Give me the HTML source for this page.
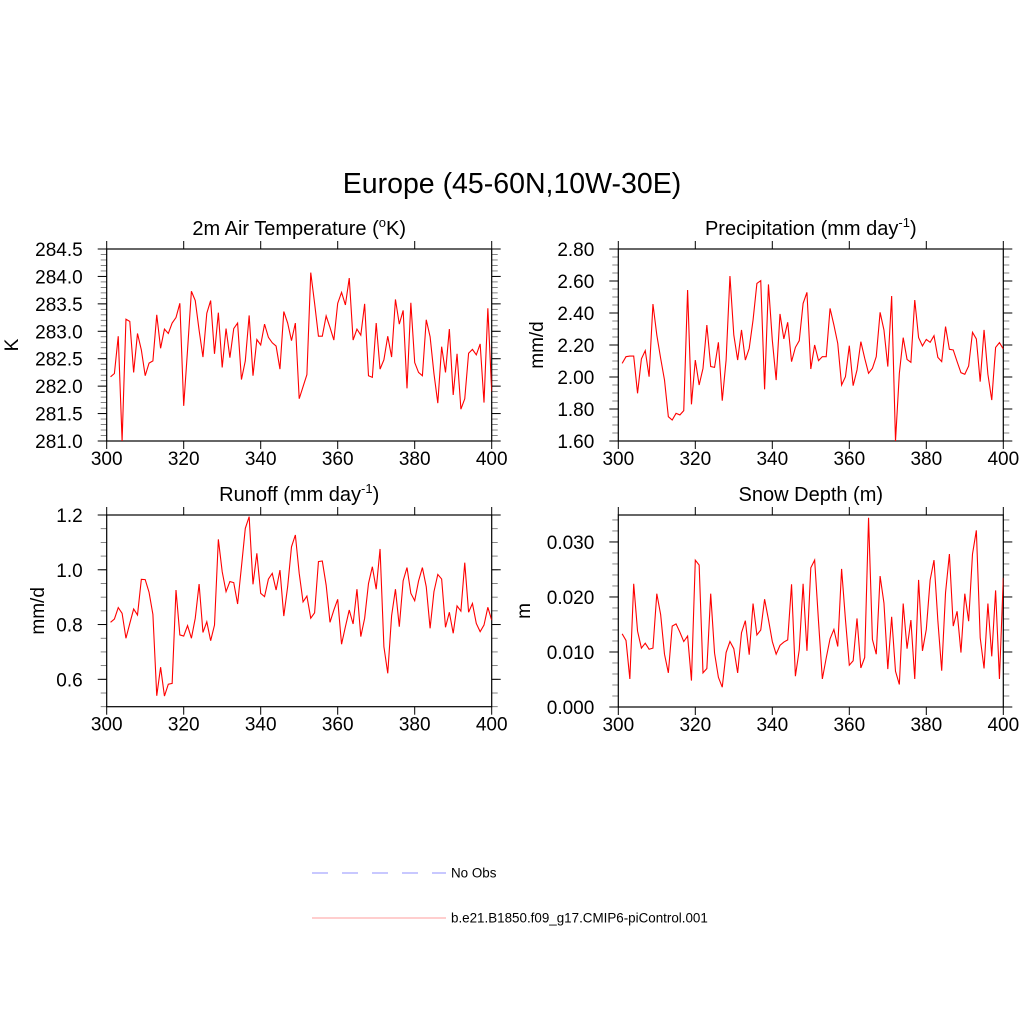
<!DOCTYPE html>
<html><head><meta charset="utf-8"><style>
html,body{margin:0;padding:0;background:#fff;}
svg{display:block;font-family:"Liberation Sans",sans-serif;}
</style></head><body>
<svg id="chart" width="1024" height="1024" viewBox="0 0 1024 1024" xmlns="http://www.w3.org/2000/svg">
<rect width="1024" height="1024" fill="#fff"/>
<text x="512" y="193" font-size="28.5" text-anchor="middle">Europe (45-60N,10W-30E)</text>
<g>
<line x1="312" y1="873" x2="446" y2="873" stroke="#a8a8ff" stroke-width="1.2" stroke-dasharray="16,14"/>
<text x="451" y="877.5" font-size="13.4">No Obs</text>
<line x1="312" y1="918" x2="446" y2="918" stroke="#ffb0b0" stroke-width="1.2"/>
<text x="451" y="922.5" font-size="13.4">b.e21.B1850.f09_g17.CMIP6-piControl.001</text>
</g>
</svg>
<script>
const years = Array.from({length:100},(_,i)=>301+i);
const xTicks = [300,320,340,360,380,400];
const tempValues = [282.17,282.23,282.91,281.0,283.22,283.18,282.25,282.96,282.66,282.19,
282.42,282.46,283.30,282.69,283.04,282.96,283.15,283.25,283.51,281.64,
282.66,283.73,283.56,283.02,282.53,283.33,283.56,282.59,283.34,282.34,
283.05,282.52,283.05,283.15,282.12,282.46,283.29,282.19,282.85,282.75,
283.13,282.89,282.79,282.73,282.31,283.36,283.15,282.83,283.15,281.77,
281.99,282.21,284.07,283.51,282.91,282.91,283.28,283.07,282.84,283.51,
283.71,283.48,283.97,282.84,283.04,282.93,283.50,282.19,282.16,283.15,
282.31,282.48,282.91,282.53,283.58,283.13,283.38,281.96,283.52,282.43,
282.25,282.19,283.21,282.90,282.23,281.69,282.72,282.25,283.04,281.84,
282.59,281.58,281.77,282.60,282.67,282.57,282.77,281.70,283.42,281.90];
const tempTicks = ["281.0","281.5","282.0","282.5","283.0","283.5","284.0","284.5"];
const precipValues = [2.085,2.127,2.131,2.131,1.898,2.113,2.165,2.002,2.456,2.263,
2.117,1.981,1.752,1.731,1.773,1.763,1.790,2.544,1.829,2.106,
1.950,2.054,2.325,2.065,2.060,2.217,1.852,2.106,2.631,2.263,
2.106,2.294,2.106,2.179,2.356,2.585,2.602,1.923,2.579,2.231,
1.981,2.394,2.238,2.342,2.096,2.185,2.227,2.460,2.529,2.050,
2.200,2.102,2.127,2.127,2.429,2.325,2.210,1.950,2.002,2.196,
1.946,2.044,2.221,2.117,2.023,2.054,2.127,2.404,2.294,2.065,
2.506,1.600,2.023,2.246,2.110,2.092,2.481,2.246,2.194,2.235,
2.217,2.258,2.123,2.096,2.315,2.173,2.169,2.096,2.027,2.017,
2.069,2.279,2.238,1.971,2.294,2.017,1.856,2.185,2.215,2.175];
const precipTicks = ["1.60","1.80","2.00","2.20","2.40","2.60","2.80"];
const runoffValues = [0.808,0.820,0.862,0.841,0.750,0.804,0.857,0.835,0.965,0.964,
0.918,0.837,0.540,0.644,0.539,0.582,0.585,0.926,0.762,0.758,
0.796,0.750,0.823,0.948,0.771,0.810,0.741,0.798,1.111,0.993,
0.920,0.957,0.953,0.875,1.011,1.151,1.194,0.947,1.060,0.914,
0.902,0.966,0.987,0.926,0.999,0.831,0.938,1.084,1.127,0.987,
0.883,0.904,0.823,0.843,1.030,1.032,0.944,0.808,0.853,0.892,
0.728,0.792,0.853,0.802,0.929,0.756,0.823,0.950,1.011,0.929,
1.076,0.719,0.622,0.832,0.929,0.792,0.960,1.008,0.914,0.887,
0.959,1.008,0.938,0.786,0.920,0.983,0.966,0.790,0.845,0.768,
0.868,0.849,1.026,0.845,0.877,0.804,0.774,0.798,0.863,0.816];
const runoffTicks = ["0.6","0.8","1.0","1.2"];
const snowValues = [0.0133,0.0121,0.0051,0.0224,0.0138,0.0107,0.0116,0.0105,0.0107,0.0206,
0.0168,0.0096,0.0062,0.0147,0.0151,0.0136,0.0119,0.0129,0.0048,0.0267,
0.0258,0.0062,0.0070,0.0206,0.0098,0.0054,0.0036,0.0099,0.0119,0.0106,
0.0062,0.0135,0.0157,0.0095,0.0188,0.0131,0.0140,0.0196,0.0159,0.0119,
0.0096,0.0112,0.0118,0.0122,0.0223,0.0056,0.0104,0.0224,0.0102,0.0253,
0.0267,0.0156,0.0051,0.0089,0.0124,0.0141,0.0110,0.0251,0.0159,0.0076,
0.0084,0.0161,0.0071,0.0090,0.0344,0.0123,0.0096,0.0238,0.0189,0.0069,
0.0164,0.0065,0.0041,0.0188,0.0106,0.0158,0.0051,0.0231,0.0102,0.0141,
0.0231,0.0267,0.0157,0.0066,0.0208,0.0278,0.0147,0.0174,0.0099,0.0206,
0.0156,0.0278,0.0321,0.0126,0.0070,0.0188,0.0092,0.0212,0.0051,0.0235];
const snowTicks = ["0.000","0.010","0.020","0.030"];

const svg = document.getElementById('chart');
const NS = 'http://www.w3.org/2000/svg';
function mk(tag, attrs, parent){const e=document.createElementNS(NS,tag);for(const k in attrs)e.setAttribute(k,attrs[k]);parent.appendChild(e);return e;}

function panel(cfg){
  const g = mk('g',{},svg);
  
  
  const L=cfg.L,R=cfg.R,T=cfg.T,B=cfg.B;
  const xs = v => L + (v-300)/(100)*(R-L);
  const ys = v => B - (v-cfg.ymin)/(cfg.ymax-cfg.ymin)*(B-T);
  for(let v=cfg.ymin; v<=cfg.ymax+1e-9; v+=cfg.minor){
    const y=ys(v);
    const t1=mk('line',{x1:L-6,x2:L,y1:y,y2:y,stroke:'#666','stroke-width':0.8},g);
    
    
    const t2=mk('line',{x1:R,x2:R+6,y1:y,y2:y,stroke:'#666','stroke-width':0.8},g);
    
    
  }
  cfg.ticks.forEach(lbl=>{
    const y=ys(parseFloat(lbl));
    const t=mk('line',{x1:L-9,x2:L,y1:y,y2:y,stroke:'#000','stroke-width':1},g);
    
    
    const t2=mk('line',{x1:R,x2:R+9,y1:y,y2:y,stroke:'#000','stroke-width':1},g);
    
    
    const tx=mk('text',{x:L-24,y:y+7,'font-size':19,'text-anchor':'end'},g);
    tx.textContent=lbl;
    
    
  });
  xTicks.forEach(v=>{
    const x=xs(v);
    const t=mk('line',{x1:x,x2:x,y1:B,y2:B+8,stroke:'#000','stroke-width':1},g);
    
    
    const t2=mk('line',{x1:x,x2:x,y1:T-8,y2:T,stroke:'#000','stroke-width':1},g);
    
    
    const tx=mk('text',{x:x,y:B+24,'font-size':19,'text-anchor':'middle'},g);
    tx.textContent=String(v);
    
    
  });
  const fr=mk('rect',{x:L,y:T,width:R-L,height:B-T,fill:'none',stroke:'#000','stroke-width':1.2},g);
  
  
  const yt=mk('text',{x:0,y:0,'font-size':19,'text-anchor':'middle',transform:`translate(${cfg.ytx},${(T+B)/2}) rotate(-90)`},g);
  yt.textContent=cfg.ytitle;
  
  
  const st=mk('text',{x:(L+R)/2,y:T-14,'font-size':20,'text-anchor':'middle'},g);
  st.innerHTML=cfg.title;
  
  
  const pts=cfg.values.map((v,i)=>xs(years[i]).toFixed(2)+','+ys(v).toFixed(2)).join(' ');
  const cid='clip-'+cfg.name;
  const cp=mk('clipPath',{id:cid},g);
  mk('rect',{x:L,y:T,width:R-L,height:B-T},cp);
  const pl=mk('polyline',{points:pts,fill:'none',stroke:'#ff0000','stroke-width':1.1,'clip-path':`url(#${cid})`},g);
  
  
}
panel({name:'panel-temperature',L:106.7,R:491.7,T:249,B:441,ymin:281,ymax:284.5,minor:0.1,ticks:tempTicks,values:tempValues,ytitle:'K',ytx:18,
  title:'2m Air Temperature (<tspan dy="-8" font-size="13">o</tspan><tspan dy="8">K)</tspan>'});
panel({name:'panel-precipitation',L:618.3,R:1003.3,T:249,B:441,ymin:1.6,ymax:2.8,minor:0.05,ticks:precipTicks,values:precipValues,ytitle:'mm/d',ytx:543,
  title:'Precipitation (mm day<tspan dy="-8" font-size="13">-1</tspan><tspan dy="8">)</tspan>'});
panel({name:'panel-runoff',L:106.7,R:491.7,T:515,B:706.7,ymin:0.5,ymax:1.2,minor:0.05,ticks:runoffTicks,values:runoffValues,ytitle:'mm/d',ytx:44,
  title:'Runoff (mm day<tspan dy="-8" font-size="13">-1</tspan><tspan dy="8">)</tspan>'});
panel({name:'panel-snow-depth',L:618.3,R:1003.3,T:515,B:707,ymin:0,ymax:0.0349,minor:0.002,ticks:snowTicks,values:snowValues,ytitle:'m',ytx:530,
  title:'Snow Depth (m)'});
</script>
</body></html>
